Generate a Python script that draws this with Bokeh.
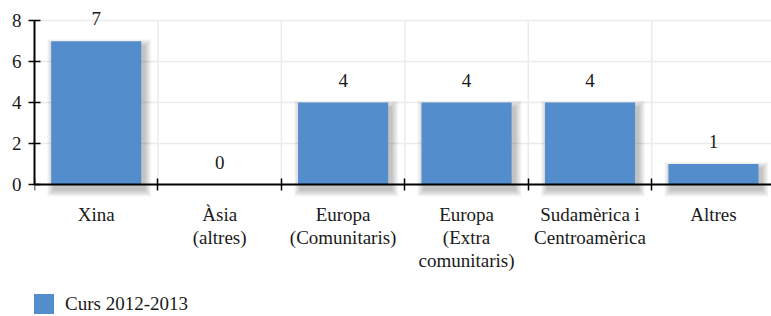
from bokeh.plotting import figure
from bokeh.models import (ColumnDataSource, FixedTicker, Range1d, LabelSet,
                          Legend, LegendItem)
from bokeh.embed import file_html
from bokeh.resources import INLINE

categories = ["Xina", "Àsia\n(altres)", "Europa\n(Comunitaris)",
              "Europa\n(Extra\ncomunitaris)", "Sudamèrica i\nCentroamèrica", "Altres"]
values = [7, 0, 4, 4, 4, 1]
series_name = "Curs 2012-2013"
y_ticks = [0, 2, 4, 6, 8]

FONT = "'Liberation Serif', serif"
FS = "19px"
BAR = "#548dcc"
TXT = "#1a1a1a"
GRID = "#ebebeb"

W, H = 771, 316
LEFT, TOP, ZERO = 34, 11, 184     # frame left, frame top, pixel row of value 0
X_MAX = 5.97
Y_MAX = 8.45
ppu_y = (ZERO - TOP) / Y_MAX
ppu_x = (W - LEFT) / X_MAX
Y_MIN = -(H - ZERO) / ppu_y
BAR_W = 0.73

centers = [i + 0.5 for i in range(len(categories))]
bounds = [float(i) for i in range(len(categories))]
n = len(categories)

src = ColumnDataSource(dict(x=centers, top=values,
                            lbl=[str(v) for v in values]))
cat_src = ColumnDataSource(dict(x=centers, y=[y_ticks[0]] * n, name=categories))
grid_src = ColumnDataSource(dict(x=bounds[1:],
                                 y0=[y_ticks[0]] * (n - 1),
                                 y1=[y_ticks[-1]] * (n - 1)))

p = figure(width=W, height=H, output_backend="svg", toolbar_location=None,
           x_range=Range1d(0, X_MAX), y_range=Range1d(Y_MIN, Y_MAX),
           min_border_left=LEFT, min_border_right=0, min_border_top=TOP,
           min_border_bottom=0)
p.outline_line_color = None
p.background_fill_color = "white"
p.border_fill_color = "white"

p.segment(x0="x", x1="x", y0="y0", y1="y1", source=grid_src,
          line_color=GRID, line_width=1.5)

# soft drop shadow under each non-empty bar
sx, sy = 3 / ppu_x, 5 / ppu_y
for k in range(1, 8):
    ex, ey = k / ppu_x, k / ppu_y
    xs = [c + sx for c, v in zip(centers, values) if v > 0]
    tops = [v - sy + ey for v in values if v > 0]
    p.vbar(x=xs, top=tops, bottom=y_ticks[0] - sy - ey, width=BAR_W + 2 * ex,
           color="black", alpha=0.034, line_color=None)

r = p.vbar(x="x", top="top", bottom=y_ticks[0], width=BAR_W, source=src,
           color=BAR, line_color=None)

p.text(x="x", y="y", text="name", source=cat_src, y_offset=19,
       text_align="center", text_baseline="top", text_line_height=1.1,
       text_font=FONT, text_font_size=FS, text_color=TXT)

labels = LabelSet(x="x", y="top", text="lbl", source=src, y_offset=16,
                  text_align="center", text_baseline="alphabetic",
                  text_font=FONT, text_font_size=FS, text_color=TXT)
p.add_layout(labels)

# x axis, drawn at value 0; boundary ticks only
xa = p.xaxis[0]
xa.fixed_location = y_ticks[0]
xa.ticker = FixedTicker(ticks=[], minor_ticks=bounds)
xa.major_tick_line_color = None
xa.major_tick_in = 0
xa.major_tick_out = 0
xa.minor_tick_in = 6
xa.minor_tick_out = 6
xa.minor_tick_line_color = "black"
xa.minor_tick_line_width = 1.5
xa.axis_line_color = "black"
xa.axis_line_width = 2
xa.major_label_standoff = 0

# y axis
ya = p.yaxis[0]
ya.ticker = FixedTicker(ticks=y_ticks)
ya.bounds = (y_ticks[0], y_ticks[-1])
ya.major_tick_in = 6
ya.major_tick_out = 6
ya.major_tick_line_width = 1.5
ya.major_tick_line_color = "black"
ya.minor_tick_line_color = None
ya.axis_line_color = "black"
ya.axis_line_width = 2
ya.major_label_text_font = FONT
ya.major_label_text_font_size = FS
ya.major_label_text_color = TXT
ya.major_label_standoff = 7

p.xgrid.visible = False
p.ygrid.ticker = FixedTicker(ticks=y_ticks[1:])
p.ygrid.grid_line_color = GRID
p.ygrid.grid_line_width = 1.5

legend = Legend(items=[LegendItem(label=series_name, renderers=[r])],
                location=(-3, 0), orientation="horizontal",
                glyph_width=25, glyph_height=25, label_standoff=9,
                label_text_font=FONT, label_text_font_size=FS,
                label_text_color=TXT, border_line_color=None,
                background_fill_alpha=0, padding=0, margin=0, spacing=0)
p.add_layout(legend)

open("out.html", "w").write(file_html(p, INLINE))
